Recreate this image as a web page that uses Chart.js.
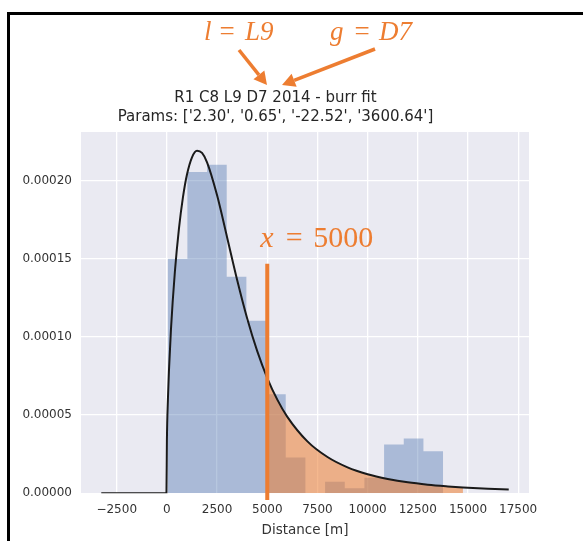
<!DOCTYPE html>
<html>
<head>
<meta charset="utf-8">
<script src="https://cdn.jsdelivr.net/npm/chart.js@4.4.1/dist/chart.umd.min.js"></script>
<style>
  body { margin: 0; background: #fff; }
  #frame { position: absolute; left: 7px; top: 12px; width: 580px; height: 535px; border-top: 3px solid #000; border-left: 3px solid #000; }
  canvas { position: absolute; left: 0; top: 0; }
</style>
</head>
<body>
<div id="frame"></div>
<canvas id="burrChart" width="583" height="541"></canvas>
<script>
// histogram: bin edges and density per bin
const binEdges = [40, 1020, 2000, 2980, 3960, 4940, 5920, 6900, 7880, 8860, 9840, 10820, 11800, 12780, 13760];
const binDensity = [0.000150, 0.0002055, 0.000210, 0.0001385, 0.0001104, 0.0000633, 0.0000229, 0, 0.0000074, 0.0000032, 0.0000100, 0.0000312, 0.0000350, 0.0000269];

// burr fit curve
const curveX = [-3270, -22, 0, 50, 100, 200, 400, 600, 800, 1000, 1250, 1500, 1750, 2000, 2500, 3000, 3500, 4000, 4500, 5000, 5500, 6000, 7000, 8000, 9000, 10000, 11000, 12000, 13000, 14000, 14750, 15000, 16000, 17030];
const curveY = [0, 0, 0.0000337, 0.000060, 0.0000778, 0.0001043, 0.0001421, 0.0001692, 0.0001893, 0.0002038, 0.0002148, 0.000219, 0.0002176, 0.0002116, 0.0001905, 0.0001636, 0.0001364, 0.0001118, 0.0000909, 0.0000737, 0.0000599, 0.0000489, 0.0000332, 0.0000232, 0.0000166, 0.0000122, 0.0000092, 0.0000070, 0.0000055, 0.0000044, 0.0000037, 0.0000035, 0.0000029, 0.0000024];

// x = 5000 marker and shaded tail
const cutoff = 5000;
const shadeEnd = 14750;
const markerTop = 0.0001468;
const markerBottom = -0.0000043;

// tick labels
const xTicks = [-2500, 0, 2500, 5000, 7500, 10000, 12500, 15000, 17500];
const yTicks = [0, 0.00005, 0.0001, 0.00015, 0.0002];

const titleLines = ["R1 C8 L9 D7 2014 - burr fit", "Params: ['2.30', '0.65', '-22.52', '3600.64']"];

const orange = "#ED7D31";
const sans = "'DejaVu Sans', sans-serif";
const serif = "'Liberation Serif', serif";

// data for the datasets
const histPoints = binEdges.map((e, i) => ({ x: e, y: binDensity[Math.min(i, binDensity.length - 1)] }));
const curvePoints = curveX.map((x, i) => ({ x: x, y: curveY[i] }));
const shadePoints = curvePoints.filter((p) => p.x >= cutoff && p.x <= shadeEnd);

// grey plot background
const plotBackground = {
  id: "plotBackground",
  beforeDraw(chart) {
    const { ctx, chartArea: { left, top, width, height } } = chart;
    ctx.save();
    ctx.fillStyle = "#EAEAF2";
    ctx.fillRect(left, top, width, height);
    ctx.restore();
  },
};

function drawArrow(ctx, x1, y1, x2, y2) {
  const ang = Math.atan2(y2 - y1, x2 - x1);
  const head = 13, half = 7;
  const bx = x2 - head * Math.cos(ang), by = y2 - head * Math.sin(ang);
  ctx.beginPath();
  ctx.moveTo(x1, y1);
  ctx.lineTo(bx, by);
  ctx.stroke();
  ctx.beginPath();
  ctx.moveTo(x2, y2);
  ctx.lineTo(bx + half * Math.sin(ang), by - half * Math.cos(ang));
  ctx.lineTo(bx - half * Math.sin(ang), by + half * Math.cos(ang));
  ctx.closePath();
  ctx.fill();
}

// pieces: [text, italic, x, align]
function mathText(ctx, size, y, pieces) {
  pieces.forEach(([txt, italic, x, align]) => {
    ctx.font = (italic ? "italic " : "") + size + "px " + serif;
    ctx.textAlign = align || "left";
    ctx.fillText(txt, x, y);
  });
}

// hand-drawn orange notes
const notes = {
  id: "notes",
  afterDraw(chart) {
    const { ctx, scales: { x, y } } = chart;
    ctx.save();
    ctx.fillStyle = orange;
    ctx.strokeStyle = orange;
    ctx.lineWidth = 3.5;
    ctx.textBaseline = "alphabetic";

    mathText(ctx, 27, 40, [["l", true, 204], ["=", false, 227, "center"], ["L9", true, 245]]);
    mathText(ctx, 27, 40, [["g", true, 330], ["=", false, 362, "center"], ["D7", true, 379]]);
    drawArrow(ctx, 239, 50, 267, 85);
    drawArrow(ctx, 375, 49, 282, 85);

    const cx = x.getPixelForValue(cutoff);
    const ty = y.getPixelForValue(markerTop) - 17;
    mathText(ctx, 30, ty, [["x", true, cx - 7], ["=", false, cx + 27, "center"], ["5000", false, cx + 46]]);
    ctx.restore();
  },
};

const data = {
  datasets: [
    {
      label: "histogram",
      data: histPoints,
      stepped: true,
      fill: "origin",
      backgroundColor: "rgba(76, 114, 176, 0.4)",
      borderWidth: 0,
      pointRadius: 0,
      order: 4,
    },
    {
      label: "tail",
      data: shadePoints,
      fill: "origin",
      cubicInterpolationMode: "monotone",
      backgroundColor: "rgba(237, 125, 49, 0.55)",
      borderWidth: 0,
      pointRadius: 0,
      order: 3,
    },
    {
      label: "burr fit",
      data: curvePoints,
      fill: false,
      cubicInterpolationMode: "monotone",
      borderColor: "#1a1a1a",
      borderWidth: 2,
      pointRadius: 0,
      order: 2,
    },
    {
      label: "x = 5000",
      data: [{ x: cutoff, y: markerTop }, { x: cutoff, y: markerBottom }],
      fill: false,
      borderColor: orange,
      borderWidth: 4,
      pointRadius: 0,
      clip: false,
      order: 1,
    },
  ],
};

const config = {
  type: "line",
  data: data,
  plugins: [plotBackground, notes],
  options: {
    responsive: false,
    animation: false,
    devicePixelRatio: 1,
    layout: { padding: { left: 22, right: 54, top: 0, bottom: 0 } },
    plugins: {
      legend: { display: false },
      tooltip: { enabled: false },
      title: {
        display: true,
        text: titleLines,
        color: "#262626",
        font: { family: sans, size: 15, weight: "normal", lineHeight: 1.3 },
        padding: { top: 88, bottom: 5 },
      },
    },
    scales: {
      x: {
        type: "linear",
        min: -4280,
        max: 18040,
        afterBuildTicks: (scale) => { scale.ticks = xTicks.map((v) => ({ value: v })); },
        afterFit: (scale) => { scale.height = 47.7; },
        grid: { color: "#ffffff", lineWidth: 1.3, drawTicks: false },
        border: { display: false },
        ticks: {
          color: "#333333",
          font: { family: sans, size: 12 },
          padding: 9.5,
          maxRotation: 0,
          callback: (v) => (v < 0 ? "\u2212" + Math.abs(v) : String(v)),
        },
        title: {
          display: true,
          text: "Distance [m]",
          color: "#333333",
          font: { family: sans, size: 13.5 },
          padding: { top: 4.7, bottom: 2.9 },
        },
      },
      y: {
        type: "linear",
        min: 0,
        max: 0.000231,
        afterBuildTicks: (scale) => { scale.ticks = yTicks.map((v) => ({ value: v })); },
        afterFit: (scale) => { scale.width = 59; },
        grid: { color: "#ffffff", lineWidth: 1.3, drawTicks: false },
        border: { display: false },
        ticks: {
          color: "#333333",
          font: { family: sans, size: 12 },
          padding: 9,
          callback: (v) => v.toFixed(5),
        },
      },
    },
  },
};

const myChart = new Chart(document.getElementById("burrChart"), config);
</script>
</body>
</html>
